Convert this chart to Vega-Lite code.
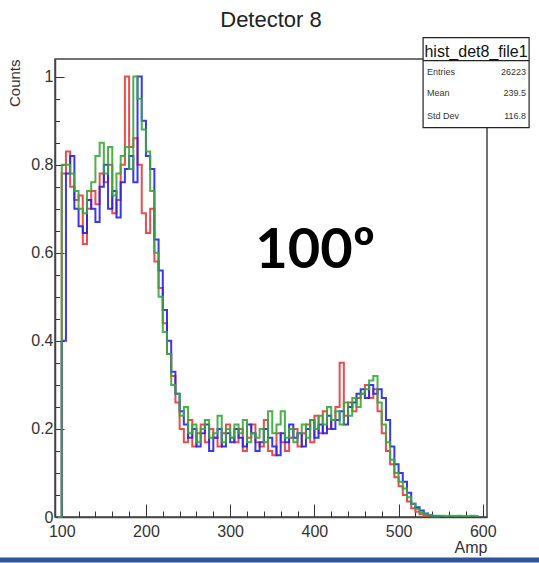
{
  "$schema": "https://vega.github.io/schema/vega-lite/v6.json",
  "width": 432,
  "height": 458,
  "autosize": {"type": "none"},
  "padding": {"left": 55, "top": 59, "right": 52, "bottom": 46},
  "background": "white",
  "title": {"text": "Detector 8", "fontSize": 22, "font": "Liberation Sans", "fontWeight": "normal", "color": "#222", "offset": 5, "anchor": "middle"},
  "config": {"view": {"stroke": "#444", "strokeWidth": 1.5}},
  "resolve": {"axis": {"x": "independent", "y": "independent"}},
  "data": {"values": [
    {"amp":95,"counts":0,"run":"r"},{"amp":100,"counts":0.78,"run":"r"},{"amp":105,"counts":0.83,"run":"r"},{"amp":110,"counts":0.75,"run":"r"},{"amp":115,"counts":0.72,"run":"r"},{"amp":120,"counts":0.73,"run":"r"},{"amp":125,"counts":0.62,"run":"r"},{"amp":130,"counts":0.70,"run":"r"},{"amp":135,"counts":0.74,"run":"r"},{"amp":140,"counts":0.71,"run":"r"},{"amp":145,"counts":0.78,"run":"r"},{"amp":150,"counts":0.76,"run":"r"},{"amp":155,"counts":0.80,"run":"r"},{"amp":160,"counts":0.69,"run":"r"},{"amp":165,"counts":0.72,"run":"r"},{"amp":170,"counts":0.80,"run":"r"},{"amp":175,"counts":1.00,"run":"r"},{"amp":180,"counts":0.84,"run":"r"},{"amp":185,"counts":0.86,"run":"r"},{"amp":190,"counts":0.80,"run":"r"},{"amp":195,"counts":0.69,"run":"r"},{"amp":200,"counts":0.645,"run":"r"},{"amp":205,"counts":0.70,"run":"r"},{"amp":210,"counts":0.58,"run":"r"},{"amp":215,"counts":0.52,"run":"r"},{"amp":220,"counts":0.44,"run":"r"},{"amp":225,"counts":0.37,"run":"r"},{"amp":230,"counts":0.32,"run":"r"},{"amp":235,"counts":0.26,"run":"r"},{"amp":240,"counts":0.20,"run":"r"},{"amp":245,"counts":0.17,"run":"r"},{"amp":250,"counts":0.22,"run":"r"},{"amp":255,"counts":0.16,"run":"r"},{"amp":260,"counts":0.19,"run":"r"},{"amp":265,"counts":0.21,"run":"r"},{"amp":270,"counts":0.17,"run":"r"},{"amp":275,"counts":0.20,"run":"r"},{"amp":280,"counts":0.18,"run":"r"},{"amp":285,"counts":0.16,"run":"r"},{"amp":290,"counts":0.19,"run":"r"},{"amp":295,"counts":0.21,"run":"r"},{"amp":300,"counts":0.18,"run":"r"},{"amp":305,"counts":0.17,"run":"r"},{"amp":310,"counts":0.20,"run":"r"},{"amp":315,"counts":0.15,"run":"r"},{"amp":320,"counts":0.18,"run":"r"},{"amp":325,"counts":0.21,"run":"r"},{"amp":330,"counts":0.17,"run":"r"},{"amp":335,"counts":0.16,"run":"r"},{"amp":340,"counts":0.22,"run":"r"},{"amp":345,"counts":0.15,"run":"r"},{"amp":350,"counts":0.14,"run":"r"},{"amp":355,"counts":0.19,"run":"r"},{"amp":360,"counts":0.17,"run":"r"},{"amp":365,"counts":0.15,"run":"r"},{"amp":370,"counts":0.18,"run":"r"},{"amp":375,"counts":0.20,"run":"r"},{"amp":380,"counts":0.16,"run":"r"},{"amp":385,"counts":0.19,"run":"r"},{"amp":390,"counts":0.21,"run":"r"},{"amp":395,"counts":0.17,"run":"r"},{"amp":400,"counts":0.23,"run":"r"},{"amp":405,"counts":0.19,"run":"r"},{"amp":410,"counts":0.24,"run":"r"},{"amp":415,"counts":0.20,"run":"r"},{"amp":420,"counts":0.22,"run":"r"},{"amp":425,"counts":0.25,"run":"r"},{"amp":430,"counts":0.35,"run":"r"},{"amp":435,"counts":0.23,"run":"r"},{"amp":440,"counts":0.26,"run":"r"},{"amp":445,"counts":0.24,"run":"r"},{"amp":450,"counts":0.27,"run":"r"},{"amp":455,"counts":0.28,"run":"r"},{"amp":460,"counts":0.30,"run":"r"},{"amp":465,"counts":0.27,"run":"r"},{"amp":470,"counts":0.29,"run":"r"},{"amp":475,"counts":0.24,"run":"r"},{"amp":480,"counts":0.19,"run":"r"},{"amp":485,"counts":0.15,"run":"r"},{"amp":490,"counts":0.12,"run":"r"},{"amp":495,"counts":0.09,"run":"r"},{"amp":500,"counts":0.07,"run":"r"},{"amp":505,"counts":0.05,"run":"r"},{"amp":510,"counts":0.035,"run":"r"},{"amp":515,"counts":0.02,"run":"r"},{"amp":520,"counts":0.012,"run":"r"},{"amp":525,"counts":0.006,"run":"r"},{"amp":530,"counts":0.003,"run":"r"},{"amp":535,"counts":0.002,"run":"r"},{"amp":540,"counts":0.001,"run":"r"},{"amp":545,"counts":0,"run":"r"},{"amp":550,"counts":0,"run":"r"},{"amp":555,"counts":0,"run":"r"},{"amp":560,"counts":0,"run":"r"},{"amp":565,"counts":0,"run":"r"},{"amp":570,"counts":0,"run":"r"},{"amp":575,"counts":0,"run":"r"},{"amp":580,"counts":0,"run":"r"},{"amp":585,"counts":0,"run":"r"},{"amp":590,"counts":0,"run":"r"},{"amp":595,"counts":0,"run":"r"},
    {"amp":95,"counts":0,"run":"b"},{"amp":100,"counts":0.40,"run":"b"},{"amp":105,"counts":0.78,"run":"b"},{"amp":110,"counts":0.82,"run":"b"},{"amp":115,"counts":0.70,"run":"b"},{"amp":120,"counts":0.66,"run":"b"},{"amp":125,"counts":0.645,"run":"b"},{"amp":130,"counts":0.72,"run":"b"},{"amp":135,"counts":0.70,"run":"b"},{"amp":140,"counts":0.67,"run":"b"},{"amp":145,"counts":0.75,"run":"b"},{"amp":150,"counts":0.80,"run":"b"},{"amp":155,"counts":0.70,"run":"b"},{"amp":160,"counts":0.74,"run":"b"},{"amp":165,"counts":0.68,"run":"b"},{"amp":170,"counts":0.76,"run":"b"},{"amp":175,"counts":0.79,"run":"b"},{"amp":180,"counts":0.82,"run":"b"},{"amp":185,"counts":0.76,"run":"b"},{"amp":190,"counts":1.00,"run":"b"},{"amp":195,"counts":0.90,"run":"b"},{"amp":200,"counts":0.82,"run":"b"},{"amp":205,"counts":0.79,"run":"b"},{"amp":210,"counts":0.63,"run":"b"},{"amp":215,"counts":0.56,"run":"b"},{"amp":220,"counts":0.47,"run":"b"},{"amp":225,"counts":0.40,"run":"b"},{"amp":230,"counts":0.33,"run":"b"},{"amp":235,"counts":0.28,"run":"b"},{"amp":240,"counts":0.24,"run":"b"},{"amp":245,"counts":0.21,"run":"b"},{"amp":250,"counts":0.18,"run":"b"},{"amp":255,"counts":0.20,"run":"b"},{"amp":260,"counts":0.16,"run":"b"},{"amp":265,"counts":0.19,"run":"b"},{"amp":270,"counts":0.21,"run":"b"},{"amp":275,"counts":0.15,"run":"b"},{"amp":280,"counts":0.18,"run":"b"},{"amp":285,"counts":0.20,"run":"b"},{"amp":290,"counts":0.16,"run":"b"},{"amp":295,"counts":0.19,"run":"b"},{"amp":300,"counts":0.17,"run":"b"},{"amp":305,"counts":0.20,"run":"b"},{"amp":310,"counts":0.18,"run":"b"},{"amp":315,"counts":0.16,"run":"b"},{"amp":320,"counts":0.21,"run":"b"},{"amp":325,"counts":0.19,"run":"b"},{"amp":330,"counts":0.15,"run":"b"},{"amp":335,"counts":0.17,"run":"b"},{"amp":340,"counts":0.20,"run":"b"},{"amp":345,"counts":0.18,"run":"b"},{"amp":350,"counts":0.16,"run":"b"},{"amp":355,"counts":0.14,"run":"b"},{"amp":360,"counts":0.19,"run":"b"},{"amp":365,"counts":0.17,"run":"b"},{"amp":370,"counts":0.21,"run":"b"},{"amp":375,"counts":0.18,"run":"b"},{"amp":380,"counts":0.19,"run":"b"},{"amp":385,"counts":0.16,"run":"b"},{"amp":390,"counts":0.20,"run":"b"},{"amp":395,"counts":0.22,"run":"b"},{"amp":400,"counts":0.18,"run":"b"},{"amp":405,"counts":0.21,"run":"b"},{"amp":410,"counts":0.19,"run":"b"},{"amp":415,"counts":0.23,"run":"b"},{"amp":420,"counts":0.20,"run":"b"},{"amp":425,"counts":0.22,"run":"b"},{"amp":430,"counts":0.24,"run":"b"},{"amp":435,"counts":0.21,"run":"b"},{"amp":440,"counts":0.25,"run":"b"},{"amp":445,"counts":0.26,"run":"b"},{"amp":450,"counts":0.28,"run":"b"},{"amp":455,"counts":0.29,"run":"b"},{"amp":460,"counts":0.27,"run":"b"},{"amp":465,"counts":0.30,"run":"b"},{"amp":470,"counts":0.28,"run":"b"},{"amp":475,"counts":0.29,"run":"b"},{"amp":480,"counts":0.27,"run":"b"},{"amp":485,"counts":0.22,"run":"b"},{"amp":490,"counts":0.16,"run":"b"},{"amp":495,"counts":0.12,"run":"b"},{"amp":500,"counts":0.10,"run":"b"},{"amp":505,"counts":0.08,"run":"b"},{"amp":510,"counts":0.055,"run":"b"},{"amp":515,"counts":0.03,"run":"b"},{"amp":520,"counts":0.022,"run":"b"},{"amp":525,"counts":0.015,"run":"b"},{"amp":530,"counts":0.008,"run":"b"},{"amp":535,"counts":0.004,"run":"b"},{"amp":540,"counts":0.002,"run":"b"},{"amp":545,"counts":0.001,"run":"b"},{"amp":550,"counts":0,"run":"b"},{"amp":555,"counts":0,"run":"b"},{"amp":560,"counts":0,"run":"b"},{"amp":565,"counts":0,"run":"b"},{"amp":570,"counts":0,"run":"b"},{"amp":575,"counts":0,"run":"b"},{"amp":580,"counts":0,"run":"b"},{"amp":585,"counts":0,"run":"b"},{"amp":590,"counts":0,"run":"b"},{"amp":595,"counts":0,"run":"b"},
    {"amp":95,"counts":0,"run":"g"},{"amp":100,"counts":0.80,"run":"g"},{"amp":105,"counts":0.80,"run":"g"},{"amp":110,"counts":0.78,"run":"g"},{"amp":115,"counts":0.74,"run":"g"},{"amp":120,"counts":0.70,"run":"g"},{"amp":125,"counts":0.69,"run":"g"},{"amp":130,"counts":0.74,"run":"g"},{"amp":135,"counts":0.76,"run":"g"},{"amp":140,"counts":0.82,"run":"g"},{"amp":145,"counts":0.85,"run":"g"},{"amp":150,"counts":0.78,"run":"g"},{"amp":155,"counts":0.84,"run":"g"},{"amp":160,"counts":0.73,"run":"g"},{"amp":165,"counts":0.78,"run":"g"},{"amp":170,"counts":0.82,"run":"g"},{"amp":175,"counts":0.84,"run":"g"},{"amp":180,"counts":0.79,"run":"g"},{"amp":185,"counts":1.00,"run":"g"},{"amp":190,"counts":0.95,"run":"g"},{"amp":195,"counts":0.88,"run":"g"},{"amp":200,"counts":0.83,"run":"g"},{"amp":205,"counts":0.74,"run":"g"},{"amp":210,"counts":0.60,"run":"g"},{"amp":215,"counts":0.50,"run":"g"},{"amp":220,"counts":0.42,"run":"g"},{"amp":225,"counts":0.37,"run":"g"},{"amp":230,"counts":0.30,"run":"g"},{"amp":235,"counts":0.28,"run":"g"},{"amp":240,"counts":0.23,"run":"g"},{"amp":245,"counts":0.25,"run":"g"},{"amp":250,"counts":0.19,"run":"g"},{"amp":255,"counts":0.21,"run":"g"},{"amp":260,"counts":0.17,"run":"g"},{"amp":265,"counts":0.20,"run":"g"},{"amp":270,"counts":0.22,"run":"g"},{"amp":275,"counts":0.18,"run":"g"},{"amp":280,"counts":0.19,"run":"g"},{"amp":285,"counts":0.23,"run":"g"},{"amp":290,"counts":0.17,"run":"g"},{"amp":295,"counts":0.20,"run":"g"},{"amp":300,"counts":0.18,"run":"g"},{"amp":305,"counts":0.21,"run":"g"},{"amp":310,"counts":0.19,"run":"g"},{"amp":315,"counts":0.22,"run":"g"},{"amp":320,"counts":0.17,"run":"g"},{"amp":325,"counts":0.19,"run":"g"},{"amp":330,"counts":0.18,"run":"g"},{"amp":335,"counts":0.20,"run":"g"},{"amp":340,"counts":0.17,"run":"g"},{"amp":345,"counts":0.24,"run":"g"},{"amp":350,"counts":0.19,"run":"g"},{"amp":355,"counts":0.21,"run":"g"},{"amp":360,"counts":0.24,"run":"g"},{"amp":365,"counts":0.18,"run":"g"},{"amp":370,"counts":0.20,"run":"g"},{"amp":375,"counts":0.17,"run":"g"},{"amp":380,"counts":0.19,"run":"g"},{"amp":385,"counts":0.21,"run":"g"},{"amp":390,"counts":0.18,"run":"g"},{"amp":395,"counts":0.22,"run":"g"},{"amp":400,"counts":0.20,"run":"g"},{"amp":405,"counts":0.23,"run":"g"},{"amp":410,"counts":0.21,"run":"g"},{"amp":415,"counts":0.25,"run":"g"},{"amp":420,"counts":0.22,"run":"g"},{"amp":425,"counts":0.24,"run":"g"},{"amp":430,"counts":0.21,"run":"g"},{"amp":435,"counts":0.26,"run":"g"},{"amp":440,"counts":0.23,"run":"g"},{"amp":445,"counts":0.27,"run":"g"},{"amp":450,"counts":0.25,"run":"g"},{"amp":455,"counts":0.28,"run":"g"},{"amp":460,"counts":0.29,"run":"g"},{"amp":465,"counts":0.31,"run":"g"},{"amp":470,"counts":0.32,"run":"g"},{"amp":475,"counts":0.26,"run":"g"},{"amp":480,"counts":0.21,"run":"g"},{"amp":485,"counts":0.17,"run":"g"},{"amp":490,"counts":0.13,"run":"g"},{"amp":495,"counts":0.10,"run":"g"},{"amp":500,"counts":0.08,"run":"g"},{"amp":505,"counts":0.065,"run":"g"},{"amp":510,"counts":0.045,"run":"g"},{"amp":515,"counts":0.03,"run":"g"},{"amp":520,"counts":0.018,"run":"g"},{"amp":525,"counts":0.01,"run":"g"},{"amp":530,"counts":0.006,"run":"g"},{"amp":535,"counts":0.004,"run":"g"},{"amp":540,"counts":0.003,"run":"g"},{"amp":545,"counts":0.003,"run":"g"},{"amp":550,"counts":0.003,"run":"g"},{"amp":555,"counts":0.002,"run":"g"},{"amp":560,"counts":0.003,"run":"g"},{"amp":565,"counts":0.002,"run":"g"},{"amp":570,"counts":0.003,"run":"g"},{"amp":575,"counts":0.002,"run":"g"},{"amp":580,"counts":0.002,"run":"g"},{"amp":585,"counts":0.003,"run":"g"},{"amp":590,"counts":0.002,"run":"g"},{"amp":595,"counts":0.002,"run":"g"}
  ]},
  "layer": [
    {
      "mark": {"type": "line", "interpolate": "step-after", "strokeWidth": 2, "opacity": 0.9},
      "encoding": {
        "x": {"field": "amp", "type": "quantitative",
          "scale": {"domain": [92, 605], "nice": false, "zero": false},
          "axis": {
            "orient": "bottom",
            "values": [100, 200, 300, 400, 500, 600],
            "format": "d",
            "tickSize": -13,
            "tickColor": "#333", "tickWidth": 1, "domainColor": "#444", "domainWidth": 1.5,
            "labelFont": "Liberation Sans", "labelFontSize": 16, "labelColor": "#333", "labelPadding": 19,
            "labelFlush": false, "labelOverlap": false, "grid": false,
            "title": "Amp", "titleAnchor": "end", "titleFont": "Liberation Sans", "titleFontSize": 16,
            "titleFontWeight": "normal", "titleColor": "#333", "titlePadding": 0
          }},
        "y": {"field": "counts", "type": "quantitative",
          "scale": {"domain": [0, 1.04], "nice": false, "zero": false},
          "axis": {
            "orient": "left",
            "values": [0, 0.2, 0.4, 0.6, 0.8, 1],
            "labelExpr": "datum.value == 0 ? '0' : datum.value == 1 ? '1' : format(datum.value, '.1f')",
            "tickSize": -9,
            "tickColor": "#333", "tickWidth": 1, "domainColor": "#444", "domainWidth": 1.5,
            "labelFont": "Liberation Sans", "labelFontSize": 16, "labelColor": "#333", "labelPadding": 11,
            "labelOverlap": false, "labelFlush": false, "grid": false,
            "title": "Counts", "titleAnchor": "end", "titleFont": "Liberation Sans", "titleFontSize": 15,
            "titleFontWeight": "normal", "titleColor": "#333", "titlePadding": 8
          }},
        "color": {"field": "run", "type": "nominal", "legend": null,
          "scale": {"domain": ["r", "b", "g"], "range": ["#e8383d", "#2424e8", "#3aa63a"]}}
      }
    },
    {
      "data": {"values": [{"angle": "100º"}]},
      "mark": {"type": "text", "font": "Lato", "fontWeight": "bold", "fontSize": 56, "align": "center", "baseline": "middle", "color": "#000"},
      "encoding": {
        "x": {"datum": 401, "type": "quantitative",
          "axis": {"orient": "bottom", "values": [120,140,160,180,220,240,260,280,320,340,360,380,420,440,460,480,520,540,560,580],
                   "tickSize": -6, "tickColor": "#333", "tickWidth": 1, "labels": false, "domain": false, "grid": false, "title": null}},
        "y": {"datum": 0.605, "type": "quantitative",
          "axis": {"orient": "left", "values": [0.05,0.1,0.15,0.25,0.3,0.35,0.45,0.5,0.55,0.65,0.7,0.75,0.85,0.9,0.95],
                   "tickSize": -4.5, "tickColor": "#333", "tickWidth": 1, "labels": false, "domain": false, "grid": false, "title": null}},
        "text": {"field": "angle"}
      }
    },
    {
      "data": {"values": [{"name": "hist_det8_file1", "entries": "26223", "mean": "239.5", "stddev": "116.8"}]},
      "layer": [
        {"mark": {"type": "rect", "fill": "white", "stroke": "#222", "strokeWidth": 1.2},
         "encoding": {"x": {"datum": 529.1, "type": "quantitative", "axis": null}, "x2": {"datum": 655},
                      "y": {"datum": 1.0886, "type": "quantitative", "axis": null}, "y2": {"datum": 0.884}}},
        {"mark": {"type": "rule", "color": "#222", "strokeWidth": 1.2},
         "encoding": {"x": {"datum": 529.1, "type": "quantitative", "axis": null}, "x2": {"datum": 655},
                      "y": {"datum": 1.0364, "type": "quantitative", "axis": null}}},
        {"mark": {"type": "text", "font": "Liberation Sans", "fontSize": 16, "align": "center", "baseline": "alphabetic", "color": "#111"},
         "encoding": {"x": {"datum": 592, "type": "quantitative", "axis": null}, "y": {"datum": 1.0455, "type": "quantitative", "axis": null}, "text": {"field": "name"}}},
        {"mark": {"type": "text", "font": "Liberation Sans", "fontSize": 9, "align": "left", "baseline": "middle", "color": "#333", "text": "Entries"},
         "encoding": {"x": {"datum": 533.8, "type": "quantitative", "axis": null}, "y": {"datum": 1.0114, "type": "quantitative", "axis": null}}},
        {"mark": {"type": "text", "font": "Liberation Sans", "fontSize": 9, "align": "left", "baseline": "middle", "color": "#333", "text": "Mean"},
         "encoding": {"x": {"datum": 533.8, "type": "quantitative", "axis": null}, "y": {"datum": 0.9636, "type": "quantitative", "axis": null}}},
        {"mark": {"type": "text", "font": "Liberation Sans", "fontSize": 9, "align": "left", "baseline": "middle", "color": "#333", "text": "Std Dev"},
         "encoding": {"x": {"datum": 533.8, "type": "quantitative", "axis": null}, "y": {"datum": 0.9114, "type": "quantitative", "axis": null}}},
        {"mark": {"type": "text", "font": "Liberation Sans", "fontSize": 9, "align": "right", "baseline": "middle", "color": "#333"},
         "encoding": {"x": {"datum": 651.4, "type": "quantitative", "axis": null}, "y": {"datum": 1.0114, "type": "quantitative", "axis": null}, "text": {"field": "entries"}}},
        {"mark": {"type": "text", "font": "Liberation Sans", "fontSize": 9, "align": "right", "baseline": "middle", "color": "#333"},
         "encoding": {"x": {"datum": 651.4, "type": "quantitative", "axis": null}, "y": {"datum": 0.9636, "type": "quantitative", "axis": null}, "text": {"field": "mean"}}},
        {"mark": {"type": "text", "font": "Liberation Sans", "fontSize": 9, "align": "right", "baseline": "middle", "color": "#333"},
         "encoding": {"x": {"datum": 651.4, "type": "quantitative", "axis": null}, "y": {"datum": 0.9114, "type": "quantitative", "axis": null}, "text": {"field": "stddev"}}}
      ]
    },
    {
      "data": {"values": [{"band": "footer"}]},
      "mark": {"type": "rule", "color": "#2e5597", "strokeWidth": 5},
      "encoding": {
        "x": {"datum": 20, "type": "quantitative", "axis": null}, "x2": {"datum": 680},
        "y": {"datum": -0.0977, "type": "quantitative", "axis": null}
      }
    }
  ]
}
